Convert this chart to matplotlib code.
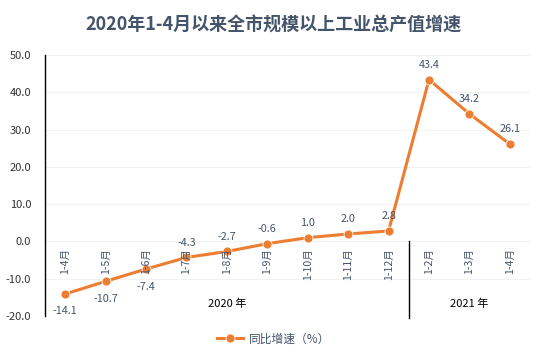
import matplotlib
matplotlib.use('Agg')
import matplotlib.pyplot as plt
import numpy as np

plt.rcParams['font.family'] = ['Noto Sans CJK SC', 'DejaVu Sans']

# ================= 数据 =================
categories = ['1-4月', '1-5月', '1-6月', '1-7月', '1-8月', '1-9月', '1-10月', '1-11月', '1-12月',
              '1-2月', '1-3月', '1-4月']
values = [-14.1, -10.7, -7.4, -4.3, -2.7, -0.6, 1.0, 2.0, 2.8, 43.4, 34.2, 26.1]
years = ['2020 年', '2021 年']
year_counts = [9, 3]
yticks = [-20, -10, 0, 10, 20, 30, 40, 50]

LINE_COLOR = '#ED7D31'
TEXT_COLOR = '#44546A'

fig = plt.figure(figsize=(5.47, 3.52), dpi=100)
ax = fig.add_axes([0.0823, 0.1023, 0.8867, 0.7415])

x = np.arange(len(values))
ax.plot(x, values, color=LINE_COLOR, lw=2.2, marker='o', ms=6.5,
        markeredgecolor='white', markeredgewidth=0.6, zorder=3, label='同比增速（%）')

# 数据标签: 负值较大的在下方，其余在上方
for i, v in enumerate(values):
    if v < -5:
        ax.annotate(f'{v:.1f}', (i, v), xytext=(0, -9), textcoords='offset points',
                    ha='center', va='top', fontsize=7.8, color=TEXT_COLOR)
    else:
        ax.annotate(f'{v:.1f}', (i, v), xytext=(0, 7), textcoords='offset points',
                    ha='center', va='bottom', fontsize=7.8, color=TEXT_COLOR)

ax.set_xlim(-0.5, len(values) - 0.5)
ax.set_ylim(-20, 50)
ax.set_yticks(yticks)
ax.set_yticklabels([f'{t:.1f}' for t in yticks], fontsize=8, color='#333333')
ax.set_xticks([])
ax.grid(axis='y', color='#F2F2F2', lw=0.8)
ax.set_axisbelow(True)
for s in ['top', 'right', 'bottom']:
    ax.spines[s].set_visible(False)
ax.spines['left'].set_color('black')
ax.spines['left'].set_linewidth(1.0)
ax.tick_params(axis='y', length=0, pad=10)

# 分类标签（0线下方竖排）
for i, c in enumerate(categories):
    ax.text(i, -1.8, c, rotation=90, ha='center', va='top', fontsize=7.6, color=TEXT_COLOR)

# 年份分组
start = 0
for y, n in zip(years, year_counts):
    ax.text(start + (n - 1) / 2, -16.8, y, ha='center', va='center', fontsize=8, color='black')
    start += n
sep = year_counts[0] - 0.5
ax.plot([sep, sep], [0, -20.5], color='black', lw=1.0, clip_on=False)

fig.legend(loc='lower center', bbox_to_anchor=(0.5, -0.012), frameon=False,
           fontsize=8.5, handlelength=2.2, handletextpad=0.5, labelcolor=TEXT_COLOR)

fig.suptitle('2020年1-4月以来全市规模以上工业总产值增速', x=0.5, y=0.955,
             fontsize=13, fontweight='bold', color=TEXT_COLOR)

fig.savefig('out.png', dpi=100)
